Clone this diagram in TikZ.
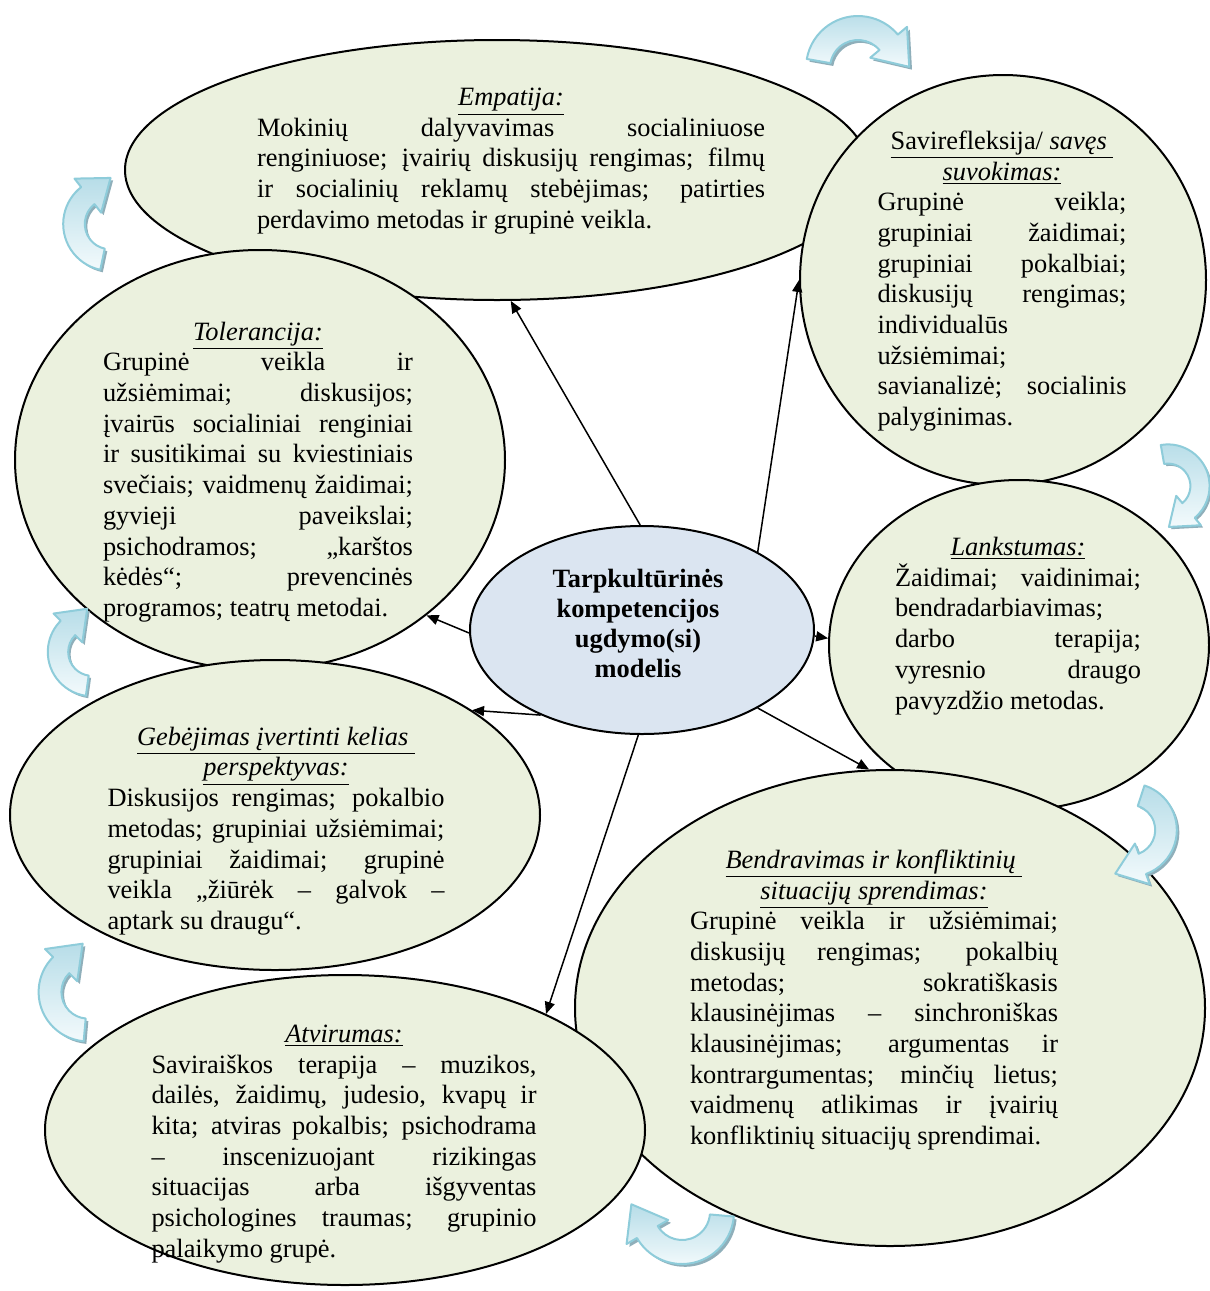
\documentclass[tikz,border=0pt]{standalone}
\usepackage{fontspec}
\setmainfont{Liberation Serif}
\usetikzlibrary{shapes.geometric,arrows.meta}

\definecolor{bubblefill}{HTML}{EBF1DE}
\definecolor{corefill}{HTML}{DBE5F1}
\definecolor{turnfill}{HTML}{B7DDE8}
\definecolor{turnlight}{HTML}{F3FAFC}
\definecolor{turnedge}{HTML}{8ECCDA}
\definecolor{turnshadow}{HTML}{8FAFBA}

\newcommand\jline[1]{{\spaceskip=0pt\xspaceskip=0pt\makebox[\linewidth][s]{#1}}}
\newcommand\headline[1]{\makebox[\linewidth][c]{#1}}

\tikzset{
  bubble/.style={ellipse, draw, line width=1pt, fill=bubblefill, inner sep=0pt},
  core/.style={ellipse, draw, line width=1pt, fill=corefill, inner sep=0pt},
  blurb/.style={inner sep=0pt, text width=#1, align=left,
    font=\fontsize{13.2}{15.35}\selectfont,
    execute at begin node={\spaceskip=0pt\xspaceskip=0pt}},
  link/.style={-{Triangle[length=6pt,width=5pt]}, line width=0.75pt},
  pics/turnarrow/.style 2 args={code={
    \begin{scope}[shift={(0.07,-0.07)}]
      \fill[turnshadow] (#1:1.3) arc[start angle=#1, end angle=#2, radius=1.3]
        -- (#2:1.6) -- ({#2-38.7}:1.28) -- (#2:0.4) -- (#2:0.7)
        arc[start angle=#2, end angle=#1, radius=0.7] -- cycle;
    \end{scope}
    \shade[top color=turnfill, bottom color=turnlight, draw=turnedge, line width=1pt,
      line join=round]
      (#1:1.3) arc[start angle=#1, end angle=#2, radius=1.3]
        -- (#2:1.6) -- ({#2-38.7}:1.28) -- (#2:0.4) -- (#2:0.7)
        arc[start angle=#2, end angle=#1, radius=0.7] -- cycle;
  }}
}

\begin{document}
\begin{tikzpicture}[x=0.5pt, y=0.5pt]
\useasboundingbox[fill=white] (0,0) rectangle (1210,-1291);

% ellipses
\node[bubble, minimum width=372pt, minimum height=130pt] (emp) at (497,-170) {};
\node[bubble, minimum width=203pt, minimum height=205pt] (savi) at (1003,-280) {};
\node[bubble, minimum width=245pt, minimum height=210pt] (tol) at (260,-460) {};
\node[bubble, minimum width=190pt, minimum height=165pt] (lank) at (1019,-645) {};
\node[bubble, minimum width=265pt, minimum height=155pt] (geb) at (275,-815) {};
\node[bubble, minimum width=315pt, minimum height=238pt] (bend) at (890,-1008) {};
\node[bubble, minimum width=300pt, minimum height=155pt] (atv) at (345,-1130) {};
\node[core, minimum width=172pt, minimum height=104pt] (ctr) at (642,-630) {};

% texts
\node[blurb=254pt] (empTxt) at (511,-161) {%
  \headline{\underline{\textit{Empatija:}}}\\
  \jline{Mokinių dalyvavimas socialiniuose}\\
  \jline{renginiuose; įvairių diskusijų rengimas; filmų}\\
  \jline{ir socialinių reklamų stebėjimas; patirties}\\
  perdavimo metodas ir grupinė veikla.};
\node[blurb=124.5pt] (saviTxt) at (1002,-281) {%
  \headline{\underline{Savirefleksija/\ \textit{savęs}\ }}\\
  \headline{\underline{\textit{suvokimas:}}}\\
  \jline{Grupinė veikla;}\\
  \jline{grupiniai žaidimai;}\\
  \jline{grupiniai pokalbiai;}\\
  \jline{diskusijų rengimas;}\\
  individualūs\\
  užsiėmimai;\\
  \jline{savianalizė; socialinis}\\
  palyginimas.};
\node[blurb=155pt] (tolTxt) at (258,-472) {%
  \headline{\underline{\textit{Tolerancija:}}}\\
  \jline{Grupinė veikla ir}\\
  \jline{užsiėmimai; diskusijos;}\\
  \jline{įvairūs socialiniai renginiai}\\
  \jline{ir susitikimai su kviestiniais}\\
  \jline{svečiais; vaidmenų žaidimai;}\\
  \jline{gyvieji paveikslai;}\\
  \jline{psichodramos; „karštos}\\
  \jline{kėdės“; prevencinės}\\
  programos; teatrų metodai.};
\node[blurb=123pt] (lankTxt) at (1018,-626) {%
  \headline{\underline{\textit{Lankstumas:}}}\\
  \jline{Žaidimai; vaidinimai;}\\
  bendradarbiavimas;\\
  \jline{darbo terapija;}\\
  \jline{vyresnio draugo}\\
  pavyzdžio metodas.};
\node[blurb=168.5pt] (gebTxt) at (276,-831) {%
  \headline{\underline{\textit{Gebėjimas įvertinti kelias}\ }}\\
  \headline{\underline{\textit{perspektyvas:}}}\\
  \jline{Diskusijos rengimas; pokalbio}\\
  \jline{metodas; grupiniai užsiėmimai;}\\
  \jline{grupiniai žaidimai; grupinė}\\
  \jline{veikla „žiūrėk – galvok –}\\
  aptark su draugu“.};
\node[blurb=184pt] (bendTxt) at (874,-1000) {%
  \headline{\underline{\textit{Bendravimas ir konfliktinių}\ }}\\
  \headline{\underline{\textit{situacijų sprendimas:}}}\\
  \jline{Grupinė veikla ir užsiėmimai;}\\
  \jline{diskusijų rengimas; pokalbių}\\
  \jline{metodas; sokratiškasis}\\
  \jline{klausinėjimas – sinchroniškas}\\
  \jline{klausinėjimas; argumentas ir}\\
  \jline{kontrargumentas; minčių lietus;}\\
  \jline{vaidmenų atlikimas ir įvairių}\\
  konfliktinių situacijų sprendimai.};
\node[blurb=192.5pt] (atvTxt) at (344,-1144) {%
  \headline{\underline{\textit{Atvirumas:}}}\\
  \jline{Saviraiškos terapija – muzikos,}\\
  \jline{dailės, žaidimų, judesio, kvapų ir}\\
  \jline{kita; atviras pokalbis; psichodrama}\\
  \jline{– inscenizuojant rizikingas}\\
  \jline{situacijas arba išgyventas}\\
  \jline{psichologines traumas; grupinio}\\
  palaikymo grupė.};
\node[inner sep=0pt, align=center, font=\fontsize{13.2}{15}\selectfont\bfseries] (ctrTxt)
  at (638,-623) {Tarpkultūrinės\\ kompetencijos\\ ugdymo(si)\\ modelis};

% links
\draw[link] (ctr.91) -- (emp.-84);
\draw[link] (ctr.34) -- (savi.180);
\draw[link] (ctr.181) -- (tol.-43);
\draw[link] (ctr.-2) -- (lank.178);
\draw[link] (ctr.220) -- (geb.28);
\draw[link] (ctr.-34) -- (bend.95);
\draw[link] (ctr.-92) -- (atv.30);

% cycle arrows
\pic[scale=40] (turnA) at (858,-68) {turnarrow={170}{40}};
\pic[scale=32] (turnB) at (1168,-486) {turnarrow={100}{-50}};
\pic[scale=36] (turnC) at (1130,-830) {turnarrow={72}{-70}};
\pic[scale=40] (turnD) at (682,-1212) {turnarrow={-5}{-150}};
\pic[scale=38] (turnE) at (88,-992) {turnarrow={265}{135}};
\pic[scale=34] (turnF) at (92,-652) {turnarrow={262}{135}};
\pic[scale=36] (turnG) at (110,-224) {turnarrow={258}{128}};
\end{tikzpicture}
\end{document}
